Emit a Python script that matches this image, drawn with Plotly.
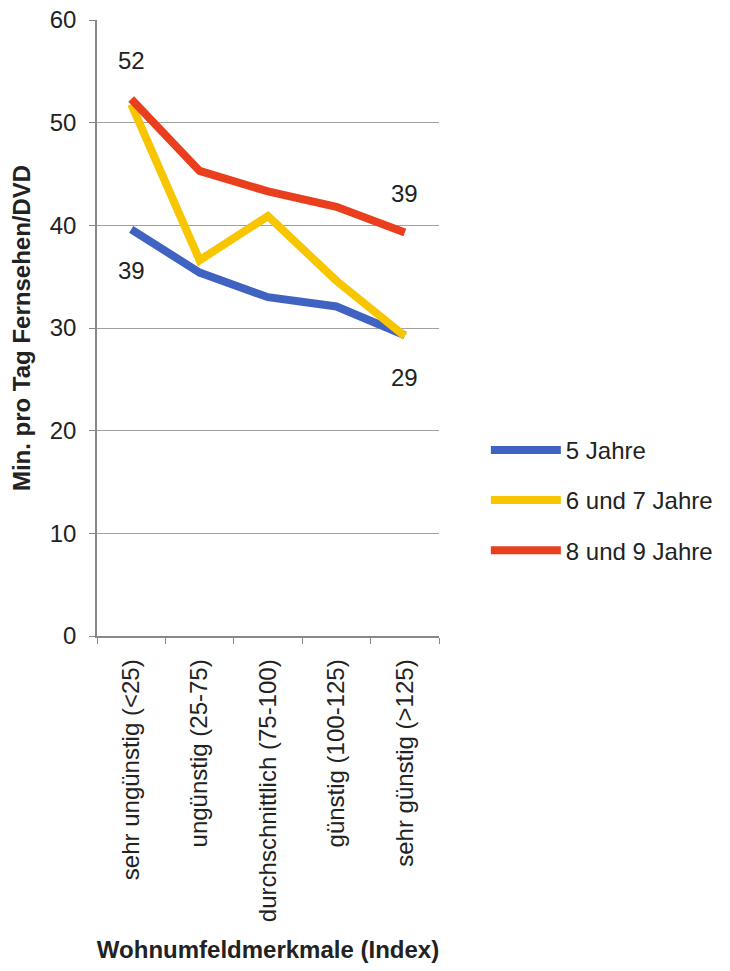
import plotly.graph_objects as go

categories = ["sehr ungünstig (<25)", "ungünstig (25-75)", "durchschnittlich (75-100)",
              "günstig (100-125)", "sehr günstig (>125)"]
series_names = ["5 Jahre", "6 und 7 Jahre", "8 und 9 Jahre"]
values_5 = [39.6, 35.4, 33.0, 32.1, 29.3]
values_67 = [51.8, 36.6, 40.9, 34.6, 29.2]
values_89 = [52.3, 45.3, 43.3, 41.8, 39.3]
colors = ["#4063c2", "#f7c600", "#ea3f1e"]

# data labels: (series index, category index, text, position)
labels = [
    (2, 0, "52", "top"),
    (0, 0, "39", "bottom"),
    (2, 4, "39", "top"),
    (1, 4, "29", "bottom"),
]

FONT = "Liberation Sans, Arial, sans-serif"
TXT = "#222"
fig = go.Figure()
all_vals = [values_5, values_67, values_89]
for i, (name, vals) in enumerate(zip(series_names, all_vals)):
    fig.add_trace(go.Scatter(
        x=categories, y=vals, mode="lines", name=name,
        line=dict(color=colors[i], width=8), legendgroup=name,
    ))

for si, ci, txt, pos in labels:
    fig.add_annotation(
        x=categories[ci], y=all_vals[si][ci], text=txt, showarrow=False,
        yshift=39 if pos == "top" else -41,
        font=dict(size=24, color=TXT, family=FONT),
    )

fig.update_layout(
    width=730, height=971,
    margin=dict(l=97, r=287, t=20, b=335),
    paper_bgcolor="white", plot_bgcolor="white",
    font=dict(family=FONT, color=TXT),
    showlegend=True,
    legend=dict(
        x=1.137, y=0.338, xanchor="left", yanchor="top",
        font=dict(size=24, color=TXT, family=FONT),
        traceorder="grouped", tracegroupgap=16, itemwidth=70,
        bgcolor="rgba(0,0,0,0)",
    ),
    xaxis=dict(
        type="category", range=[-0.5, len(categories) - 0.5],
        tickangle=-90, tickson="boundaries",
        ticks="outside", ticklen=6, tickcolor="#888",
        showline=True, linecolor="#888", linewidth=1.5,
        showgrid=False, automargin=False, ticklabelstandoff=12,
        ticklabeloverflow="allow",
        tickfont=dict(size=24, color=TXT, family=FONT),
        title=dict(text="<b>Wohnumfeldmerkmale (Index)</b>", standoff=20,
                   font=dict(size=24, color=TXT, family=FONT)),
    ),
    yaxis=dict(
        range=[0, 60], dtick=10, tick0=0,
        showgrid=True, gridcolor="#a0a0a0", gridwidth=1.2,
        showline=True, linecolor="#888", linewidth=1.5,
        ticks="outside", ticklen=6, tickcolor="#888",
        zeroline=False, automargin=False, ticklabelstandoff=8,
        ticklabeloverflow="allow",
        tickfont=dict(size=24, color=TXT, family=FONT),
        title=dict(text="<b>Min. pro Tag Fernsehen/DVD</b>", standoff=12,
                   font=dict(size=24, color=TXT, family=FONT)),
    ),
)

fig.write_html("out.html", config={"displayModeBar": False},
               post_script="document.body.style.margin='0px';")
